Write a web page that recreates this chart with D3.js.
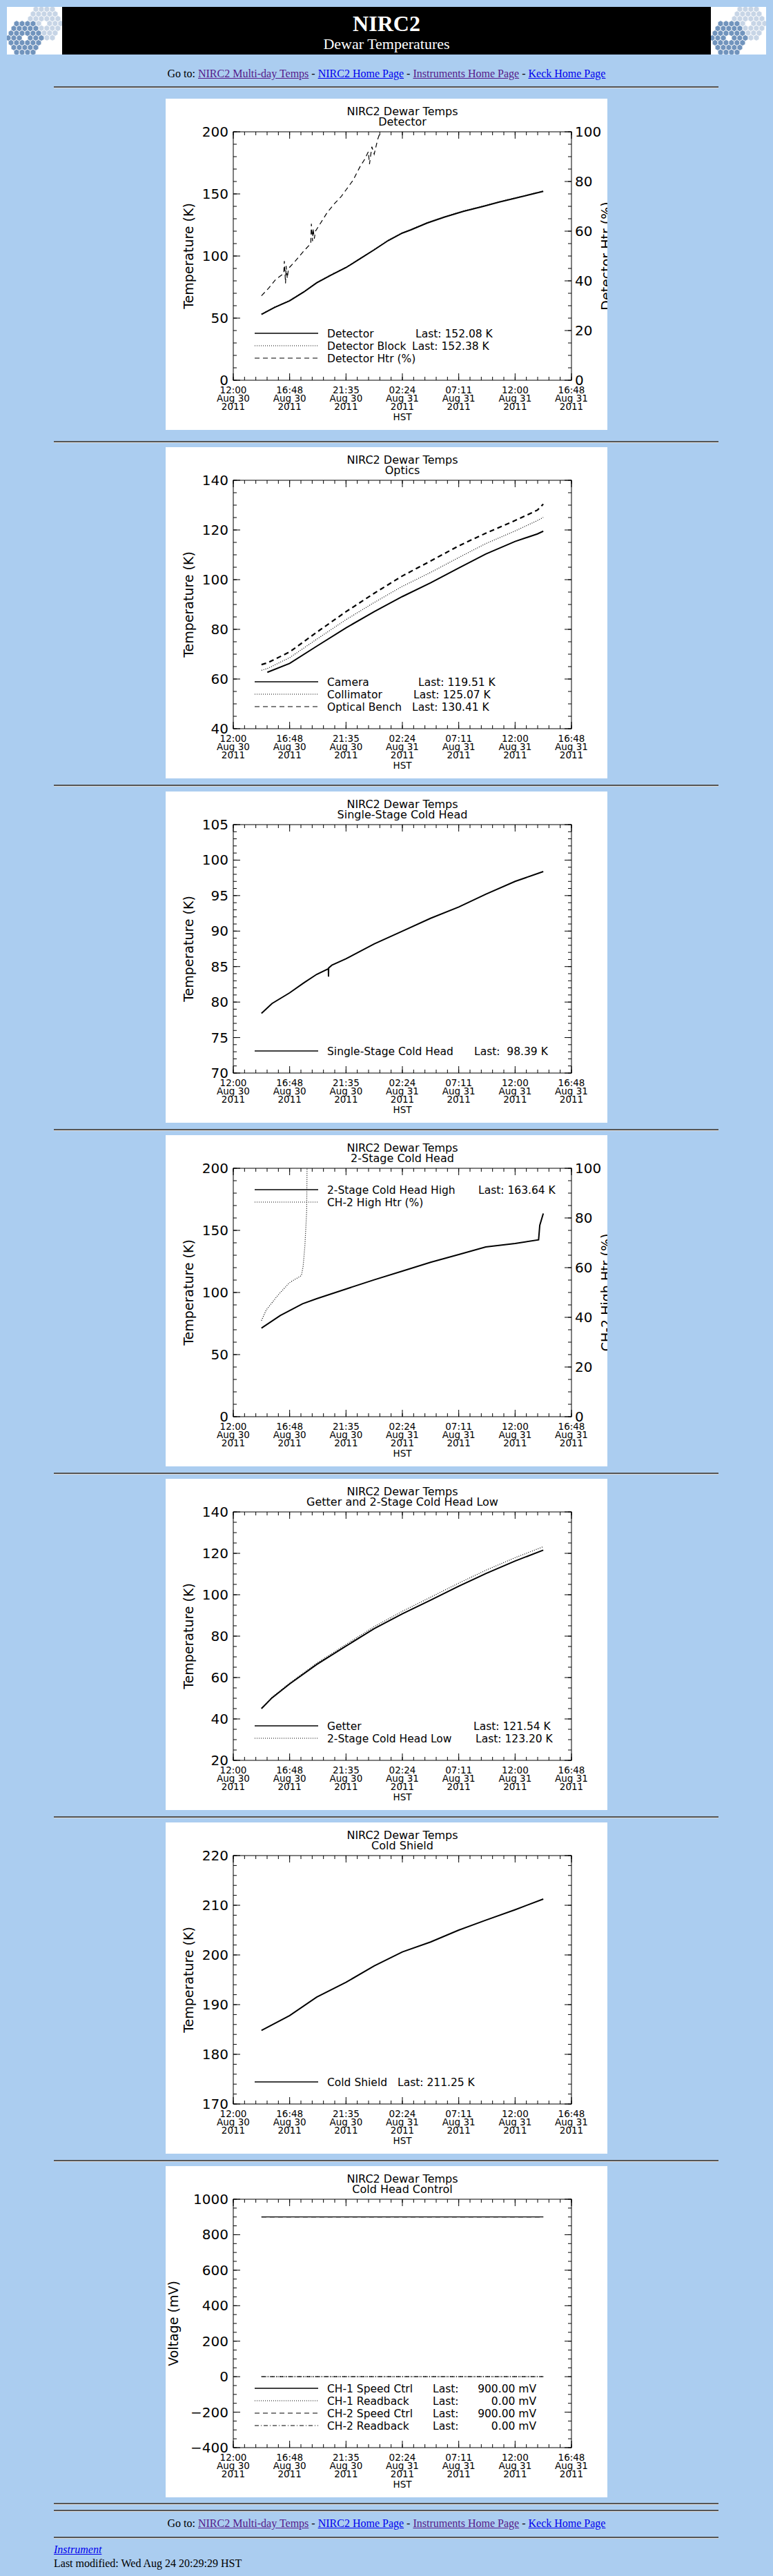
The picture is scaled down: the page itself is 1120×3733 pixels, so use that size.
<!DOCTYPE html>
<html>
<head>
<meta charset="utf-8">
<script src="https://cdn.jsdelivr.net/npm/d3@7"></script>
<style>
  body { margin: 0; background: #abcdf0; font-family: "Liberation Serif", "DejaVu Serif", serif; }
  #page { position: relative; width: 1120px; height: 3733px; }
  .abs { position: absolute; }
  .hr { position: absolute; left: 78px; width: 963px; height: 0; border-top: 2px solid #555; border-bottom: 1px solid #ddd; }
  .goto { position: absolute; left: 0; width: 1120px; text-align: center; font-size: 16px; }
  a { color: #0000ee; }
  a.v { color: #551a8b; }
  svg text { font-family: "DejaVu Sans", sans-serif; font-weight: normal; fill: #000; }
</style>
</head>
<body>
<div id="page"></div>
<script>
// time axis: hours since 12:00 Aug 30 2011 (HST)
const xTickTimes = ["12:00", "16:48", "21:35", "02:24", "07:11", "12:00", "16:48"];
const xTickDays = ["Aug 30", "Aug 30", "Aug 30", "Aug 31", "Aug 31", "Aug 31", "Aug 31"];
const xTickYears = ["2011", "2011", "2011", "2011", "2011", "2011", "2011"];

// Detector
const detHours = [2.4, 3.5, 4.8, 6.0, 7.1, 8.3, 9.6, 10.8, 12.0, 13.2, 14.4, 15.1, 16.5, 18.0, 19.6, 21.3, 22.6, 24.0, 25.2, 26.4];
const detTemp = [53, 58.5, 64, 71, 78.4, 84.5, 90.7, 97.8, 105, 112.5, 118.5, 121, 126.5, 131.4, 136, 140, 143.3, 146.5, 149.3, 152.08];
const detBlock = [53.3, 58.8, 64.3, 71.3, 78.7, 84.8, 91, 98.1, 105.3, 112.8, 118.8, 121.3, 126.8, 131.7, 136.3, 140.3, 143.6, 146.8, 149.6, 152.38];
const htrHours = [2.4, 3.0, 3.6, 4.3, 4.35, 4.45, 4.5, 4.6, 4.7, 5.2, 6.0, 6.6, 6.65, 6.75, 6.8, 6.9, 7.0, 7.4, 8.0, 8.6, 9.2, 9.6, 10.2, 10.8, 11.2, 11.5, 11.6, 11.8, 12.0, 12.3, 12.6];
const htrPct = [34, 37, 40.5, 43, 48, 39, 46, 41, 45, 47.5, 52, 55, 63, 56, 61, 57, 60, 63, 67.5, 71, 74, 76.6, 80.5, 86, 89, 92, 87, 94, 91, 97, 101];

// Optics
const optHours = [2.4, 2.9, 4.8, 7.1, 9.6, 12.0, 14.4, 16.8, 19.2, 21.5, 24.0, 25.9, 26.4];
const cameraTemp = [null, 62.7, 66.3, 73.2, 80.6, 87.1, 93.2, 98.7, 104.7, 110.3, 115.4, 118.4, 119.51];
const collTemp = [63.5, 64.2, 68.6, 76, 83.9, 90.8, 97.3, 102.9, 108.9, 114.5, 119.6, 123.8, 125.07];
const benchTemp = [65.8, 66.5, 70.9, 78.8, 87.1, 94.5, 101.5, 107.5, 113.6, 118.7, 123.8, 128, 130.41];

// Single-stage cold head
const sschHours = [2.4, 3.3, 4.8, 6.0, 7.1, 8.1, 8.11, 8.12, 8.4, 9.6, 12.0, 14.4, 16.8, 19.2, 21.5, 24.0, 26.4];
const sschTemp = [78.4, 79.8, 81.3, 82.7, 83.9, 84.7, 83.6, 84.8, 85.2, 86.1, 88.2, 90, 91.8, 93.4, 95.2, 97, 98.39];

// 2-stage cold head
const ch2Hours = [2.4, 4.0, 5.9, 7.1, 9.6, 12.0, 14.4, 16.8, 19.2, 21.5, 24.0, 26.0, 26.1, 26.4];
const ch2Temp = [71.3, 81.5, 90.9, 95, 102.8, 110.2, 117.2, 124.3, 130.6, 136.7, 139.5, 142.4, 154, 163.64];
const ch2HtrHours = [2.4, 2.8, 3.8, 4.8, 5.8, 5.95, 6.1, 6.25, 6.3];
const ch2HtrPct = [38.7, 42.9, 48.9, 54, 56.8, 60.6, 68.9, 82.7, 110];

// Getter and 2-stage cold head low
const getHours = [2.4, 3.3, 4.8, 7.1, 9.6, 12.0, 14.4, 16.8, 19.2, 21.5, 24.0, 26.4];
const getterTemp = [45, 50.2, 56.9, 66.3, 75.2, 83.6, 90.8, 97.4, 104.1, 110.2, 116.3, 121.54];
const chLowTemp = [45.2, 50.5, 57.3, 66.9, 76, 84.6, 92, 98.8, 105.6, 111.8, 117.9, 123.2];

// Cold shield
const csHours = [2.4, 4.8, 7.1, 9.6, 12.0, 14.4, 16.8, 19.2, 21.5, 24.0, 26.4];
const csTemp = [184.8, 187.8, 191.5, 194.5, 197.8, 200.6, 202.6, 205, 207, 209.1, 211.25];

// Cold head control
const chcHours = [2.4, 26.4];
const ch1Speed = [900, 900];
const ch1Read = [0, 0];
const ch2Speed = [900, 900];
const ch2Read = [0, 0];

const base = new Date(2011, 7, 30, 12, 0);
const toDate = h => new Date(base.getTime() + h * 3600e3);

const STYLE = {
  solid: { dash: null, w: 2 },
  thin: { dash: null, w: 1.2 },
  dotted: { dash: "1,2", w: 1.2 },
  dashed: { dash: "7,5", w: 1.2 },
  dashedThick: { dash: "7,5", w: 2.2 },
  dashdot: { dash: "6,3,1,3", w: 1.2 }
};

const panels = [
  { top: 143, sub: "Detector", y: [0, 200], yMajor: 50, yMinor: 10, ylab: "Temperature (K)",
    y2: [0, 100], y2Major: 20, y2Minor: 5, y2lab: "Detector Htr (%)",
    series: [
      { h: detHours, v: detTemp, s: "solid" },
      { h: detHours, v: detBlock, s: "dotted" },
      { h: htrHours, v: htrPct, s: "dashed", right: true }],
    legend: [
      { s: "solid", name: "Detector", last: "Last: 152.08 K", lx: 362 },
      { s: "dotted", name: "Detector Block", last: "Last: 152.38 K", lx: 357 },
      { s: "dashed", name: "Detector Htr (%)" }], ly: [340, 358, 376] },
  { top: 648, sub: "Optics", y: [40, 140], yMajor: 20, yMinor: 5, ylab: "Temperature (K)",
    series: [
      { h: optHours, v: cameraTemp, s: "solid" },
      { h: optHours, v: collTemp, s: "dotted" },
      { h: optHours, v: benchTemp, s: "dashedThick" }],
    legend: [
      { s: "solid", name: "Camera", last: "Last: 119.51 K", lx: 366 },
      { s: "dotted", name: "Collimator", last: "Last: 125.07 K", lx: 359 },
      { s: "dashed", name: "Optical Bench", last: "Last: 130.41 K", lx: 357 }], ly: [340, 358, 376] },
  { top: 1147, sub: "Single-Stage Cold Head", y: [70, 105], yMajor: 5, yMinor: 1, ylab: "Temperature (K)",
    series: [{ h: sschHours, v: sschTemp, s: "solid" }],
    legend: [{ s: "solid", name: "Single-Stage Cold Head", last: "Last:  98.39 K", lx: 447 }], ly: [376] },
  { top: 1645, sub: "2-Stage Cold Head", y: [0, 200], yMajor: 50, yMinor: 10, ylab: "Temperature (K)",
    y2: [0, 100], y2Major: 20, y2Minor: 5, y2lab: "CH-2 High Htr (%)",
    series: [
      { h: ch2Hours, v: ch2Temp, s: "solid" },
      { h: ch2HtrHours, v: ch2HtrPct, s: "dotted", right: true }],
    legend: [
      { s: "solid", name: "2-Stage Cold Head High", last: "Last: 163.64 K", lx: 453 },
      { s: "dotted", name: "CH-2 High Htr (%)" }], ly: [79, 97] },
  { top: 2143, sub: "Getter and 2-Stage Cold Head Low", y: [20, 140], yMajor: 20, yMinor: 5, ylab: "Temperature (K)",
    series: [
      { h: getHours, v: chLowTemp, s: "dotted" },
      { h: getHours, v: getterTemp, s: "solid" }],
    legend: [
      { s: "solid", name: "Getter", last: "Last: 121.54 K", lx: 446 },
      { s: "dotted", name: "2-Stage Cold Head Low", last: "Last: 123.20 K", lx: 449 }], ly: [358, 376] },
  { top: 2641, sub: "Cold Shield", y: [170, 220], yMajor: 10, yMinor: 2, ylab: "Temperature (K)",
    series: [{ h: csHours, v: csTemp, s: "solid" }],
    legend: [{ s: "solid", name: "Cold Shield", last: "Last: 211.25 K", lx: 336 }], ly: [376] },
  { top: 3139, sub: "Cold Head Control", y: [-400, 1000], yMajor: 200, yMinor: 50, ylab: "Voltage (mV)", ylabX: 18,
    series: [
      { h: chcHours, v: ch2Speed, s: "dashed" },
      { h: chcHours, v: ch1Speed, s: "thin" },
      { h: chcHours, v: ch1Read, s: "dotted" },
      { h: chcHours, v: ch2Read, s: "dashdot" }],
    legend: [
      { s: "solid", name: "CH-1 Speed Ctrl", last: "Last:", lx: 387, val: "900.00 mV" },
      { s: "dotted", name: "CH-1 Readback", last: "Last:", lx: 387, val: "0.00 mV" },
      { s: "dashed", name: "CH-2 Speed Ctrl", last: "Last:", lx: 387, val: "900.00 mV" },
      { s: "dashdot", name: "CH-2 Readback", last: "Last:", lx: 387, val: "0.00 mV" }], ly: [322, 340, 358, 376] }
];

const page = d3.select("#page");

// header
function logo(x) {
  const svg = page.append("svg").attr("class", "abs")
    .style("left", x + "px").style("top", "10px").attr("width", 80).attr("height", 69);
  svg.append("rect").attr("width", 80).attr("height", 69).attr("fill", "#fff");
  const r = 4.6, hx = r * Math.sqrt(3);
  const hex = d3.range(6).map(i => [r * Math.cos(Math.PI / 3 * i + Math.PI / 6), r * Math.sin(Math.PI / 3 * i + Math.PI / 6)]);
  function mirror(cx, cy, col) {
    for (let q = -3; q <= 3; q++) for (let s = -3; s <= 3; s++) {
      if (Math.abs(q + s) > 3 || (q === 0 && s === 0)) continue;
      const px = cx + hx * (q + s / 2), py = cy + s * 1.5 * r;
      svg.append("polygon").attr("points", hex.map(p => [p[0] + px, p[1] + py]).join(" "))
        .attr("fill", col).attr("stroke", "#fff").attr("stroke-width", 0.8);
    }
  }
  mirror(54, 24, "#c7d5e6");
  mirror(26, 45, "#7194bd");
}
logo(10);
logo(1030);
page.append("div").attr("class", "abs")
  .style("left", "90px").style("top", "10px").style("width", "940px").style("height", "69px")
  .style("background", "#000").style("color", "#fff").style("text-align", "center")
  .html('<div style="font-size:32px;font-weight:bold;line-height:36px;padding-top:6px">NIRC2</div>' +
        '<div style="font-size:22px;line-height:24px">Dewar Temperatures</div>');

function goTo(top) {
  page.append("div").attr("class", "goto").style("top", top + "px")
    .html('Go to: <a class="v" href="#">NIRC2 Multi-day Temps</a> - <a href="#">NIRC2 Home Page</a> - ' +
          '<a class="v" href="#">Instruments Home Page</a> - <a href="#">Keck Home Page</a>');
}
goTo(98);
[125, 639, 1137, 1636, 2134, 2632, 3130, 3627, 3637, 3676].forEach(t =>
  page.append("div").attr("class", "hr").style("top", t + "px"));
goTo(3648);
page.append("div").attr("class", "abs").style("left", "78px").style("top", "3686px").style("font-size", "16px")
  .html('<a href="#"><i>Instrument</i></a>');
page.append("div").attr("class", "abs").style("left", "78px").style("top", "3706px").style("font-size", "16px")
  .text("Last modified: Wed Aug 24 20:29:29 HST");

// plots
const W = 640, H = 480, m = { l: 98, r: 588, t: 48, b: 408 };
const x = d3.scaleTime().domain([toDate(0), toDate(28.8)]).range([m.l, m.r]);
const xMajor = d3.range(7).map(i => toDate(i * 4.8));
const xMinor = d3.range(31).map(i => toDate(i * 0.96));

function ticks(svg, scale, vals, len, side) {
  vals.forEach(v => {
    const p = scale(v);
    if (side === "x") {
      svg.append("line").attr("x1", p).attr("x2", p).attr("y1", m.b).attr("y2", m.b - len);
      svg.append("line").attr("x1", p).attr("x2", p).attr("y1", m.t).attr("y2", m.t + len);
    } else if (side === "l") {
      svg.append("line").attr("x1", m.l).attr("x2", m.l + len).attr("y1", p).attr("y2", p);
      if (!scale.noRightMirror) svg.append("line").attr("x1", m.r).attr("x2", m.r - len).attr("y1", p).attr("y2", p);
    } else {
      svg.append("line").attr("x1", m.r).attr("x2", m.r - len).attr("y1", p).attr("y2", p);
    }
  });
}

panels.forEach(P => {
  const svg = page.append("svg").attr("class", "abs")
    .style("left", "240px").style("top", P.top + "px").attr("width", W).attr("height", H)
    .style("background", "#fff");
  const g = svg.append("g").attr("stroke", "#000").attr("stroke-width", 1);

  const y = d3.scaleLinear().domain(P.y).range([m.b, m.t]);
  const y2 = P.y2 ? d3.scaleLinear().domain(P.y2).range([m.b, m.t]) : null;
  if (y2) y.noRightMirror = true;

  const clip = "clip" + P.top;
  svg.append("clipPath").attr("id", clip).append("rect")
    .attr("x", m.l).attr("y", m.t).attr("width", m.r - m.l).attr("height", m.b - m.t);

  // series
  P.series.forEach(S => {
    const st = STYLE[S.s], ys = S.right ? y2 : y;
    const pts = S.h.map((h, i) => [h, S.v[i]]).filter(d => d[1] != null);
    svg.append("path").attr("clip-path", `url(#${clip})`)
      .attr("d", d3.line().x(d => x(toDate(d[0]))).y(d => ys(d[1]))(pts))
      .attr("fill", "none").attr("stroke", "#000").attr("stroke-width", st.w)
      .attr("stroke-dasharray", st.dash);
  });

  // frame and ticks
  g.append("rect").attr("x", m.l).attr("y", m.t).attr("width", m.r - m.l).attr("height", m.b - m.t).attr("fill", "none");
  ticks(g, x, xMajor, 10, "x");
  ticks(g, x, xMinor, 5, "x");
  const yMaj = d3.range(P.y[0], P.y[1] + 1e-9, P.yMajor);
  const yMin = d3.range(P.y[0], P.y[1] + 1e-9, P.yMinor);
  ticks(g, y, yMaj, 10, "l");
  ticks(g, y, yMin, 5, "l");
  yMaj.forEach(v => svg.append("text").attr("x", 91).attr("y", y(v) + 7).attr("text-anchor", "end")
    .attr("font-size", 20).text(v < 0 ? "\u2212" + (-v) : v));
  if (y2) {
    const r2 = d3.range(P.y2[0], P.y2[1] + 1e-9, P.y2Major);
    ticks(g, y2, r2, 10, "r");
    ticks(g, y2, d3.range(P.y2[0], P.y2[1] + 1e-9, P.y2Minor), 5, "r");
    r2.forEach(v => svg.append("text").attr("x", 593).attr("y", y2(v) + 7).attr("font-size", 20).text(v));
    svg.append("text").attr("transform", `translate(645,${(m.t + m.b) / 2}) rotate(-90)`)
      .attr("text-anchor", "middle").attr("font-size", 19).text(P.y2lab);
  }

  // x labels
  xMajor.forEach((d, i) => {
    const t = svg.append("text").attr("text-anchor", "middle").attr("font-size", 13.5);
    [xTickTimes[i], xTickDays[i], xTickYears[i]].forEach((s, k) =>
      t.append("tspan").attr("x", x(d)).attr("y", 427 + k * 12).text(s));
  });
  svg.append("text").attr("x", (m.l + m.r) / 2).attr("y", 466).attr("text-anchor", "middle").attr("font-size", 13.5).text("HST");

  // titles
  svg.append("text").attr("x", (m.l + m.r) / 2).attr("y", 24).attr("text-anchor", "middle").attr("font-size", 16).text("NIRC2 Dewar Temps");
  svg.append("text").attr("x", (m.l + m.r) / 2).attr("y", 39).attr("text-anchor", "middle").attr("font-size", 16).text(P.sub);
  svg.append("text").attr("transform", `translate(${P.ylabX || 40},${(m.t + m.b) / 2}) rotate(-90)`)
    .attr("text-anchor", "middle").attr("font-size", 19).text(P.ylab);

  // legend
  P.legend.forEach((L, i) => {
    const yy = P.ly[i], st = STYLE[L.s];
    svg.append("line").attr("x1", 129).attr("x2", 221).attr("y1", yy).attr("y2", yy)
      .attr("stroke", "#000").attr("stroke-width", L.s === "solid" ? 1.4 : 1.2).attr("stroke-dasharray", st.dash);
    svg.append("text").attr("x", 234).attr("y", yy + 6).attr("font-size", 15.5).text(L.name);
    if (L.last) svg.append("text").attr("x", L.lx).attr("y", yy + 6).attr("font-size", 15.5)
      .attr("xml:space", "preserve").style("white-space", "pre").text(L.last);
    if (L.val) svg.append("text").attr("x", 537).attr("y", yy + 6).attr("text-anchor", "end").attr("font-size", 15.5).text(L.val);
  });
});
</script>
</body>
</html>
